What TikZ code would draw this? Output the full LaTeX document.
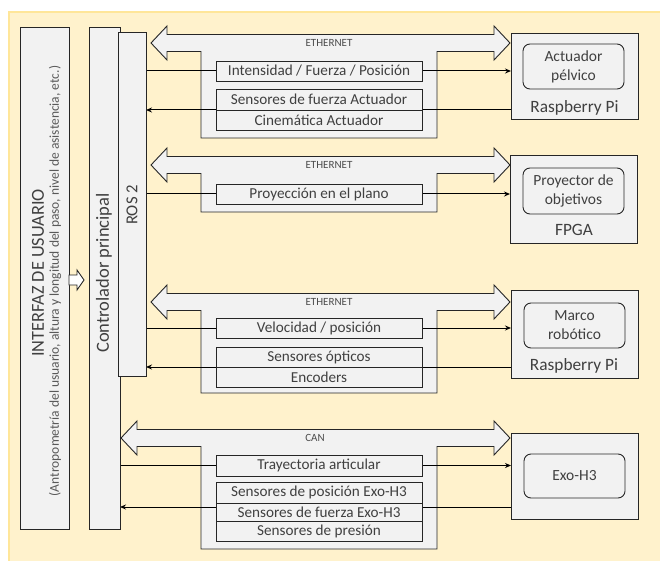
\documentclass[tikz,border=0pt]{standalone}
\usepackage{fontspec}
\setmainfont{Carlito}
\usetikzlibrary{backgrounds, arrows.meta}
\definecolor{panel}{HTML}{FFF2CC}
\definecolor{panelline}{HTML}{FFE699}
\definecolor{boxfill}{HTML}{F2F2F2}
\definecolor{ink}{HTML}{404040}

\begin{document}
\begin{tikzpicture}[
          x=1pt, y=-1pt,
          every node/.style={inner sep=0pt, outer sep=0pt, text=ink},
          box/.style={draw=black!85, fill=boxfill, line width=0.9pt, rectangle, anchor=north west},
          msg/.style={box, minimum width=206, font=\fontsize{15.2}{16}\selectfont},
          dev/.style={box, minimum width=127},
          unit/.style={box, rounded corners=7pt, minimum width=101, minimum height=45, align=center, font=\fontsize{15.5}{19}\selectfont},
          devname/.style={anchor=base, font=\fontsize{17.3}{18}\selectfont},
          bus/.style={draw=black!85, fill=boxfill, line width=0.9pt},
          buslabel/.style={font=\fontsize{11}{12}\selectfont, text=black!70},
          link/.style={draw=black, line width=1pt},
          -, >={Stealth[length=6pt, width=5pt]}
        ]

        \useasboundingbox (0,0) rectangle (660,561);

        % panel and buses
        \begin{scope}[on background layer]
          \fill[panel] (9,12) rectangle (660,561);
          \draw[panelline, line width=1.2pt] (9,561) -- (9,12) -- (660,12);
          \foreach \yc/\xl/\yb/\xt/\lab in {43/151/138/329/ETHERNET, 165/151/212/329/ETHERNET,
                                             302/151/393/329/ETHERNET, 438/121/549/315/CAN} {
            \draw[bus] (\xl,\yc) -- ++(16,-17) -- ++(0,8.5) -- (494,\yc-8.5) -- ++(0,-8.5)
              -- (510,\yc) -- ++(-16,17) -- ++(0,-8.5) -- (437,\yc+8.5) -- (437,\yb)
              -- (201,\yb) -- (201,\yc+8.5) -- (\xl+16,\yc+8.5) -- ++(0,8.5) -- cycle;
            \node[buslabel] (lbl\yc) at (\xt,\yc) {\lab};
          }
        \end{scope}

        % left column
        \node[box, minimum width=49, minimum height=502] (ui) at (20,27) {};
        \node[rotate=90, font=\fontsize{18.3}{20}\selectfont] (uititle) at (38,273) {INTERFAZ DE USUARIO};
        \node[rotate=90, font=\fontsize{13.5}{15}\selectfont, text=black!65] (uinote) at (55,281)
            {(Antropometría del usuario, altura y longitud del paso, nivel de asistencia, etc.)};
        \node[box, minimum width=31, minimum height=502] (ctrl) at (89,27) {};
        \node[rotate=90, font=\fontsize{18.5}{20}\selectfont] (ctrltext) at (104,273) {Controlador principal};
        \node[box, minimum width=28, minimum height=344] (ros) at (118,32) {};
        \node[rotate=90, font=\fontsize{16.7}{18}\selectfont] (rostext) at (132,205) {ROS 2};
        \draw[bus, fill=white] (ui.east |- 0,275) -- ++(8,0) -- ++(0,-5) -- ++(7,10) -- ++(-7,10)
            -- ++(0,-5) -- ++(-8,0) -- cycle;

        % devices
        \node[dev, minimum height=86] (rpiA) at (511,33) {};
        \node[unit] (actuator) at (523,44) {Actuador\\pélvico};
        \node[devname] (rpiAname) at (574.5,113) {Raspberry Pi};

        \node[dev, minimum height=88] (fpga) at (510,155) {};
        \node[unit, minimum height=46] (projector) at (523,168) {Proyector de\\objetivos};
        \node[devname] (fpganame) at (574,235) {FPGA};

        \node[dev, minimum height=88] (rpiB) at (511,290) {};
        \node[unit] (frame) at (524,303) {Marco\\robótico};
        \node[devname] (rpiBname) at (574,370) {Raspberry Pi};

        \node[dev, minimum height=86] (exo) at (511,433) {};
        \node[unit, minimum height=44] (exounit) at (524,454) {Exo-H3};

        % messages
        \node[msg, minimum height=20] (intensity) at (216,61) {Intensidad / Fuerza / Posición};
        \node[msg, minimum height=21] (forceA) at (216,89) {Sensores de fuerza Actuador};
        \node[msg, minimum height=20] (kinematics) at (216,110) {Cinemática Actuador};
        \node[msg, minimum height=20] (plane) at (216,184) {Proyección en el plano};
        \node[msg, minimum height=20] (speed) at (216,318) {Velocidad / posición};
        \node[msg, minimum height=20] (optical) at (216,347) {Sensores ópticos};
        \node[msg, minimum height=20] (encoders) at (216,367) {Encoders};
        \node[msg, minimum height=21] (trajectory) at (216,455) {Trayectoria articular};
        \node[msg, minimum height=21] (posExo) at (216,482) {Sensores de posición Exo-H3};
        \node[msg, minimum height=18] (forceExo) at (216,503) {Sensores de fuerza Exo-H3};
        \node[msg, minimum height=20] (pressure) at (216,521) {Sensores de presión};

        % links
        \begin{scope}[on background layer]
          \draw[link, ->] (ros.east |- intensity) -- (intensity -| rpiA.west);
          \draw[link, <-] (ros.east |- forceA.south) -- (forceA.south -| rpiA.west);
          \draw[link, ->] (ros.east |- plane) -- (plane -| fpga.west);
          \draw[link, ->] (ros.east |- speed) -- (speed -| rpiB.west);
          \draw[link, <-] (ros.east |- optical.south) -- (optical.south -| rpiB.west);
          \draw[link, ->] (ctrl.east |- trajectory) -- (trajectory -| exo.west);
          \coordinate (exoback) at ([yshift=-4pt]forceExo.north);
          \draw[link, <-] (ctrl.east |- exoback) -- (exoback -| exo.west);
        \end{scope}
        \end{tikzpicture}
\end{document}
